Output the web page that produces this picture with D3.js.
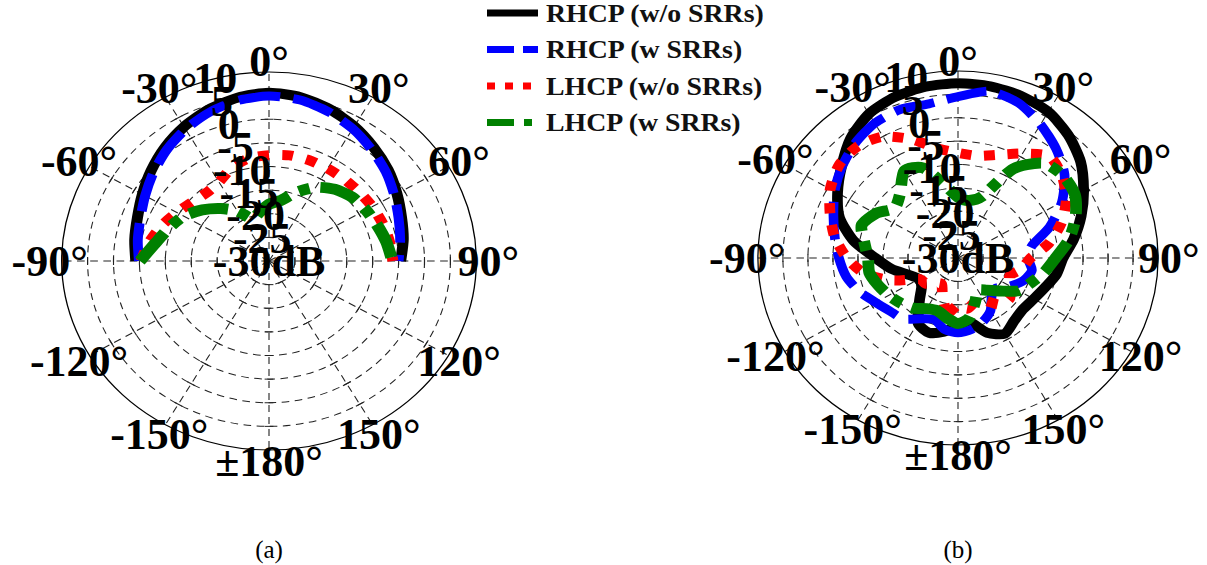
<!DOCTYPE html>
<html>
<head>
<meta charset="utf-8">
<script src="https://cdn.jsdelivr.net/npm/d3@7"></script>
<style>
  body { margin: 0; background: #fff; }
  svg { display: block; }
</style>
</head>
<body>
<div id="chart"></div>
<script>
// ---- data (dB values) ----
const dbTicks = [10, 5, 0, -5, -10, -15, -20, -25, -30];
const dbLabels = ["10", "5", "0", "-5", "-10", "-15", "-20", "-25", "-30dB"];
const angleTicks = [0, 30, 60, 90, 120, 150, 180, -150, -120, -90, -60, -30];
const angleLabels = ["0°", "30°", "60°", "90°", "120°", "150°", "±180°", "-150°", "-120°", "-90°", "-60°", "-30°"];
const seriesNames = ["RHCP (w/o SRRs)", "RHCP (w SRRs)", "LHCP (w/o SRRs)", "LHCP (w SRRs)"];

// (a) upper half only
const anglesA = [-90, -80, -70, -60, -50, -40, -30, -20, -10, 0, 10, 20, 30, 40, 50, 60, 70, 80, 90];
const rhcpWoA = [-4.3, -3.7, -3.0, -1.8, -0.3, 1.3, 2.8, 4.1, 5.1, 5.6, 5.2, 4.2, 2.9, 1.4, 0.0, -1.5, -2.8, -3.7, -4.6];
const rhcpWA  = [-4.9, -4.3, -3.6, -2.4, -0.9, 0.7, 2.2, 3.5, 4.5, 4.9, 4.6, 3.6, 2.3, 0.8, -0.6, -2.1, -3.4, -4.3, -5.0];
const lhcpWoA = [-5.3, -6.6, -8.0, -9.5, -10.6, -11.2, -10.7, -9.0, -7.9, -7.6, -7.3, -7.3, -7.4, -7.4, -7.3, -7.0, -6.7, -6.4, -6.1];
const lhcpWA  = [-5.1, -7.8, -9.5, -11.0, -13.2, -15.5, -17.8, -20.5, -19.5, -18.0, -17.0, -14.5, -12.0, -10.2, -9.0, -8.4, -7.8, -7.0, -6.2];

// (b) full circle
const anglesB = [-180, -170, -160, -150, -140, -130, -120, -110, -100, -90, -80, -70, -60, -50, -40, -30, -20, -10,
                 0, 10, 20, 30, 40, 50, 60, 70, 80, 90, 100, 110, 120, 130, 140, 150, 160, 170];
const rhcpWoB = [-15.5, -14, -13, -14, -18, -20.5, -21, -19.5, -16.5, -13.5, -8.8, -4.8, -2.2, 0.4, 3.4, 5.6, 6.7, 7.2,
                 7.4, 7.3, 6.9, 6.1, 4.3, 2.0, -1.0, -3.8, -6.5, -9.0, -10.0, -11.5, -12.5, -13, -12.5, -11.3, -13, -16];
const rhcpWB  = [-14, -14.5, -16, -15, -13, -12.3, -11, -9, -7.3, -6.2, -5, -3.5, -1.5, 0.3, 2.0, 3.3, 3.8, 3.5,
                 4.5, 6.2, 5.3, 3.0, 0.5, -2.2, -6, -10.5, -15, -16, -15, -16, -18, -20, -19.5, -17, -15.5, -14.5];
const lhcpWoB = [-20, -18, -21, -23.5, -23, -21.5, -21, -16, -11, -7.8, -5, -2.8, -0.5, 1.0, 1.2, 0, -3, -6.2,
                 -7.5, -7.8, -6.5, -4.2, -1.6, -2.8, -5, -8, -11.5, -15.5, -17, -19, -18, -16.5, -17, -19.5, -20, -19];
const lhcpWB  = [-16, -17, -18, -17.5, -16, -15, -14, -13, -12, -12, -11, -9.5, -11, -13.4, -12, -8.5, -9.5, -14,
                 -17, -17.5, -16, -8, -3.5, -2.6, -3, -5, -7.5, -10.5, -12.5, -14.5, -16, -19, -21, -22, -20, -17];

const styles = [
  { color: "#000000", width: 10, dash: null, legendDash: null },
  { color: "#0000ff", width: 9, dash: "38,12", legendDash: "27,9" },
  { color: "#ff0000", width: 10, dash: "10,12", legendDash: "8,10" },
  { color: "#008000", width: 11, dash: "36,10,10,10", legendDash: "27,10,8,10" }
];

const FONT = "'Liberation Serif', 'Times New Roman', serif";
const width = 1207, height = 565;

const svg = d3.select('#chart').append('svg')
  .attr('width', width)
  .attr('height', height);

function drawPanel(cfg) {
  // plot body is slightly wider than tall in the figure
  const g = svg.append('g')
    .attr('transform', `translate(${cfg.cx},${cfg.cy}) scale(${cfg.sx},1)`);
  const lab = svg.append('g')
    .attr('transform', `translate(${cfg.cx},${cfg.cy})`);

  const r = d3.scaleLinear().domain([-30, 10]).range([0, cfg.R]).clamp(true);
  const rad = a => a * Math.PI / 180;
  const rings = dbTicks.filter(v => v > -30 && v < 10);

  // dashed rings
  g.append('g').selectAll('circle')
    .data(rings)
    .enter().append('circle')
    .attr('r', d => r(d))
    .attr('fill', 'none')
    .attr('stroke', '#222')
    .attr('stroke-width', 1)
    .attr('stroke-dasharray', '7,5');

  // spokes
  g.append('g').selectAll('line')
    .data(d3.range(0, 360, 30))
    .enter().append('line')
    .attr('x1', 0).attr('y1', 0)
    .attr('x2', d => r(10) * Math.sin(rad(d)))
    .attr('y2', d => -r(10) * Math.cos(rad(d)))
    .attr('stroke', '#222')
    .attr('stroke-width', 1)
    .attr('stroke-dasharray', '7,5');

  // small cross ticks where spokes meet rings
  const tickPts = [];
  d3.range(0, 360, 30).forEach(a => {
    rings.forEach(v => tickPts.push({ a, v }));
  });
  g.append('g').selectAll('line')
    .data(tickPts)
    .enter().append('line')
    .attr('x1', -4).attr('x2', 4).attr('y1', 0).attr('y2', 0)
    .attr('transform', d => `rotate(${d.a}) translate(0,${-r(d.v)})`)
    .attr('stroke', '#222')
    .attr('stroke-width', 1);

  // outer circle
  g.append('circle')
    .attr('r', r(10))
    .attr('fill', 'none')
    .attr('stroke', '#000')
    .attr('stroke-width', 1.2);

  // curves
  const line = d3.lineRadial()
    .angle(d => rad(d.a))
    .radius(d => r(d.v))
    .curve(cfg.closed ? d3.curveCardinalClosed.tension(0.3) : d3.curveCardinal.tension(0.3));

  cfg.series.forEach((vals, i) => {
    const pts = cfg.angles.map((a, j) => ({ a, v: vals[j] }));
    const st = styles[i];
    g.append('path')
      .datum(pts)
      .attr('d', line)
      .attr('fill', 'none')
      .attr('stroke', st.color)
      .attr('stroke-width', st.width)
      .attr('stroke-dasharray', st.dash)
      .attr('stroke-linejoin', 'round');
  });

  // angle labels (unstretched text)
  lab.append('g').selectAll('text')
    .data(angleTicks)
    .enter().append('text')
    .attr('x', d => cfg.sx * cfg.labelR * Math.sin(rad(d)))
    .attr('y', d => -cfg.labelR * Math.cos(rad(d)))
    .attr('dy', '0.34em')
    .attr('text-anchor', 'middle')
    .attr('font-family', FONT)
    .attr('font-weight', 'bold')
    .attr('font-size', 44)
    .text((d, i) => angleLabels[i]);

  // dB labels along -15 deg
  lab.append('g').selectAll('text')
    .data(dbTicks)
    .enter().append('text')
    .attr('x', d => cfg.sx * r(d) * Math.sin(rad(-15)))
    .attr('y', d => -r(d) * Math.cos(rad(-15)))
    .attr('dy', '0.34em')
    .attr('text-anchor', 'middle')
    .attr('font-family', FONT)
    .attr('font-weight', 'bold')
    .attr('font-size', 44)
    .text((d, i) => dbLabels[i]);

  // sub caption
  svg.append('text')
    .attr('x', cfg.cx)
    .attr('y', 558)
    .attr('text-anchor', 'middle')
    .attr('font-family', FONT)
    .attr('font-size', 25)
    .text(cfg.caption);
}

drawPanel({
  cx: 269, cy: 261, R: 189, sx: 1.097, labelR: 200, closed: false, caption: '(a)',
  angles: anglesA, series: [rhcpWoA, rhcpWA, lhcpWoA, lhcpWA]
});

drawPanel({
  cx: 958, cy: 258, R: 187, sx: 1.07, labelR: 197, closed: true, caption: '(b)',
  angles: anglesB, series: [rhcpWoB, rhcpWB, lhcpWoB, lhcpWB]
});

// legend
const legendRows = [13, 49.5, 86, 122.5];
const legend = svg.append('g');
seriesNames.forEach((name, i) => {
  const st = styles[i];
  legend.append('line')
    .attr('x1', 487).attr('x2', 538)
    .attr('y1', legendRows[i]).attr('y2', legendRows[i])
    .attr('stroke', st.color)
    .attr('stroke-width', 7)
    .attr('stroke-dasharray', st.legendDash);
  legend.append('g')
    .attr('transform', `translate(546,${legendRows[i]}) scale(1.07,1)`)
    .append('text')
    .attr('dy', '0.34em')
    .attr('font-family', FONT)
    .attr('font-weight', 'bold')
    .attr('font-size', 26)
    .attr('fill', '#111')
    .text(name);
});
</script>
</body>
</html>
